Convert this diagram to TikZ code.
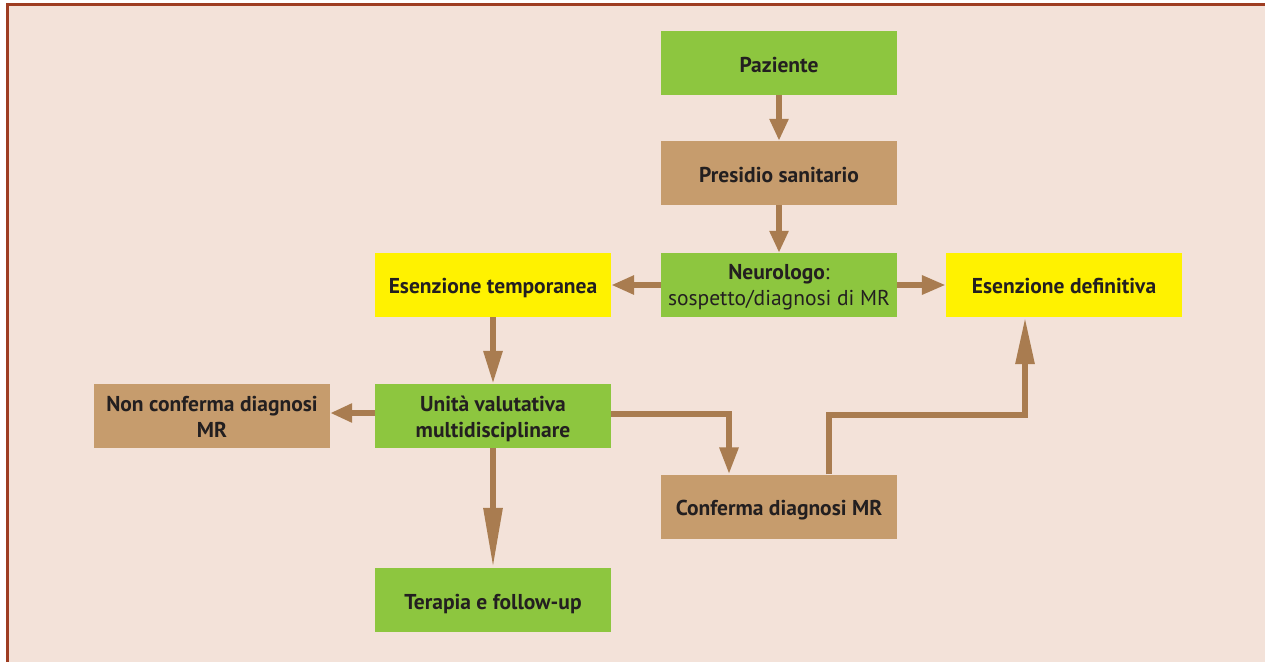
\documentclass[tikz,border=0pt]{standalone}
\usepackage{fontspec}
\setmainfont{PT Sans}
\usetikzlibrary{arrows.meta}
\definecolor{bgc}{HTML}{F3E2D9}
\definecolor{framec}{HTML}{9E3D22}
\definecolor{greenc}{HTML}{8DC63F}
\definecolor{tanc}{HTML}{C69C6D}
\definecolor{yellowc}{HTML}{FFF200}
\definecolor{arrowc}{HTML}{A97C50}
\definecolor{textc}{HTML}{231F20}
\tikzset{
  box/.style={minimum width=236pt, minimum height=64pt, inner sep=0pt},
  gbox/.style={box, fill=greenc},
  tbox/.style={box, fill=tanc},
  ybox/.style={box, fill=yellowc},
  txt/.style={inner sep=0pt, align=center, text=textc,
    font=\fontsize{21.5}{26}\selectfont\bfseries},
  txtone/.style={txt, text height=15pt, text depth=0pt},
  conn/.style={draw=arrowc, line width=6pt},
  hd/.style={-{Triangle[length=#1, width=18pt]}},
}
\begin{document}
\begin{tikzpicture}[x=1pt,y=-1pt]
\useasboundingbox (0,0) rectangle (1265,661);
\fill[white] (0,0) rectangle (1265,661);
\draw[framec, fill=bgc, line width=3pt] (7,5) rectangle (1300,700);

\node[gbox] (paz) at (779,63) {};
\node[tbox] (pres) at (779,173) {};
\node[gbox] (neur) at (779,285) {};
\node[ybox] (est) at (493,285) {};
\node[ybox] (esd) at (1064,285) {};
\node[gbox] (uni) at (493,416) {};
\node[tbox] (non) at (212,416) {};
\node[tbox] (conf) at (779,506.5) {};
\node[gbox] (ter) at (493,600) {};

\node[txtone] (pazt) at ([yshift=-1.5pt]paz.center) {Paziente};
\node[txtone] (prest) at ([yshift=-1.5pt]pres.center) {Presidio sanitario};
\node[txt] (neurt) at ([yshift=-2.5pt]neur.center) {Neurologo\textmd{:}\\\textmd{sospetto/diagnosi di MR}};
\node[txtone] (estt) at ([yshift=-1pt]est.center) {Esenzione temporanea};
\node[txtone] (esdt) at ([yshift=-0.5pt]esd.center) {Esenzione definitiva};
\node[txt] (unit) at ([yshift=-3pt]uni.center) {Unità valutativa\\multidisciplinare};
\node[txt] (nont) at ([yshift=-0.5pt]non.center) {Non conferma diagnosi\\MR};
\node[txtone] (conft) at ([yshift=-1.5pt]conf.center) {Conferma diagnosi MR};
\node[txtone] (tert) at ([yshift=-1.5pt]ter.center) {Terapia e follow-up};

\coordinate (c1) at (729,414);
\coordinate (c2) at (829,415);
\coordinate (c3) at (1025,415);

\draw[conn, hd=22pt] (paz.south) -- (pres.north);
\draw[conn, hd=22pt] (pres.south) -- (neur.north);
\draw[conn, hd=23pt] (neur.west) -- (est.east);
\draw[conn, hd=24pt] (neur.east) -- (esd.west);
\draw[conn, hd=33pt] (est.south) -- (uni.north);
\draw[conn, hd=22pt] (uni.west |- 0,413) -- (non.east |- 0,413);
\draw[conn, hd=60pt] (uni.south) -- (ter.north);
\draw[conn, hd=27pt] (uni.east |- c1) -- (c1) -- (c1 |- conf.north);
\draw[conn, hd=47pt] (c2 |- conf.north) -- (c2) -- (c3) -- (c3 |- esd.south);
\end{tikzpicture}
\end{document}
